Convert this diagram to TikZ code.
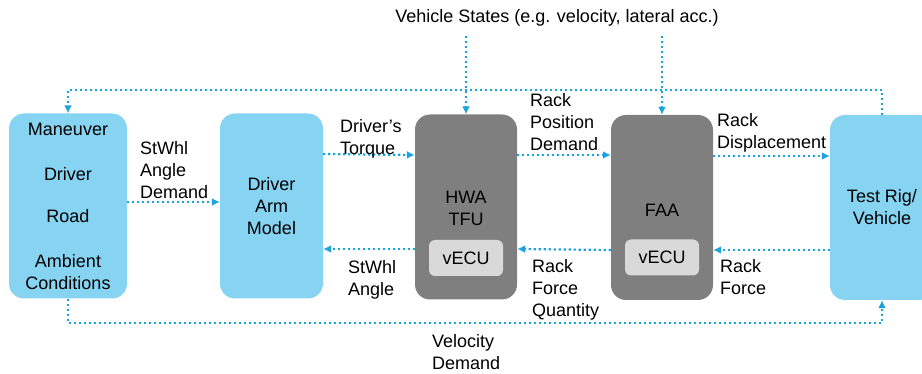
\documentclass[tikz,border=0pt]{standalone}
\usepackage{fontspec}
\setmainfont{Liberation Sans}
\usepackage{tikz}
\usetikzlibrary{arrows.meta}

\definecolor{boxblue}{HTML}{86D3F2}
\definecolor{boxgray}{HTML}{7F7F7F}
\definecolor{ecugray}{HTML}{D9D9D9}
\definecolor{linkblue}{HTML}{1BA3E0}

\begin{document}
\begin{tikzpicture}[x=1pt, y=-1pt,
  every node/.style={font=\fontsize{18}{22}\selectfont},
  blk/.style={rounded corners=15pt, minimum height=185pt},
  blue/.style={blk, fill=boxblue},
  gray/.style={blk, fill=boxgray},
  ecu/.style={fill=ecugray, rounded corners=6pt, minimum width=74pt, minimum height=36pt},
  lbl/.style={anchor=north west, align=left, inner sep=0pt},
  flow/.style={draw=linkblue, line width=2.2pt, dash pattern=on 2.2pt off 2.8pt, -{Latex[length=8pt,width=8pt]}}]
  \useasboundingbox (0,0) rectangle (922,374);

  % blocks
  \node[blue, minimum width=118pt, align=center] (man) at (68,206)
    {Maneuver\\[23pt]Driver\\[20pt]Road\\[23pt]Ambient\\Conditions};
  \node[blue, minimum width=103pt, align=center] (dam) at (271.5,206) {Driver\\Arm\\Model};
  \node[gray, minimum width=102pt] (hwa) at (466,207) {};
  \node[gray, minimum width=102pt] (faa) at (662,207.5) {};
  \node[blue, minimum width=104pt] (rig) at (882,207.5) {};
  \node[align=center] (hwat) at (466,208) {HWA\\TFU};
  \node (faat) at (662,210) {FAA};
  \node[align=center] (rigt) at (882,207.5) {Test Rig/\\Vehicle};
  \node[ecu] (ecu1) at (466,258) {vECU};
  \node[ecu] (ecu2) at (662,257.5) {vECU};

  % forward path
  \draw[flow] ([yshift=4pt]man.east) -- ([yshift=4pt]dam.west);
  \draw[flow] ([yshift=52pt]dam.east) -- ([yshift=52pt]hwa.west);
  \draw[flow] ([yshift=52pt]hwa.east) -- ([yshift=52.5pt]faa.west);
  \draw[flow] ([yshift=51.5pt]faa.east) -- ([yshift=51.5pt]rig.west);
  % backward path
  \draw[flow] ([yshift=-42.5pt]rig.west) -- ([yshift=-42.5pt]faa.east);
  \draw[flow] ([yshift=-42.5pt]faa.west) -- ([yshift=-42pt]hwa.east);
  \draw[flow] ([yshift=-42pt]hwa.west) -- ([yshift=-43pt]dam.east);

  % vehicle states
  \node (vs) at (557,18) {Vehicle States (e.g. velocity, lateral acc.)};
  \draw[flow] ([yshift=-6pt]hwa.north |- vs.south) -- (hwa.north);
  \draw[flow] ([yshift=-6pt]faa.north |- vs.south) -- (faa.north);

  % loops
  \coordinate (top) at (0,90);
  \coordinate (bot) at (0,323);
  \draw[flow] (rig.north) -- (rig.north |- top) -- (man.north |- top) -- (man.north);
  \draw[flow] (man.south) -- (man.south |- bot) -- (rig.south |- bot) -- (rig.south);

  % labels
  \node[lbl] (l1) at (140,141) {StWhl\\Angle\\Demand};
  \node[lbl] (l2) at (340,119) {Driver’s\\Torque};
  \node[lbl] (l3) at (530,93) {Rack\\Position\\Demand};
  \node[lbl] (l4) at (717,113) {Rack\\Displacement};
  \node[lbl] (l5) at (348,260) {StWhl\\Angle};
  \node[lbl] (l6) at (532,259) {Rack\\Force\\Quantity};
  \node[lbl] (l7) at (720,259) {Rack\\Force};
  \node[lbl] (l8) at (432,334) {Velocity\\Demand};
\end{tikzpicture}
\end{document}
